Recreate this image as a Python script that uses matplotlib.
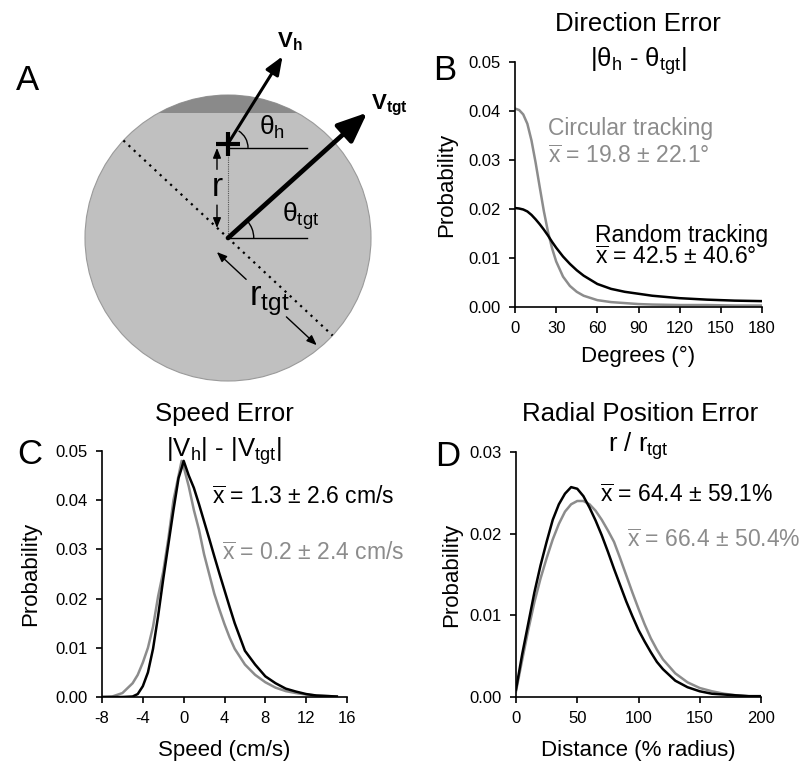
import matplotlib
matplotlib.use('Agg')
import matplotlib.pyplot as plt
from matplotlib.patches import Circle, Rectangle, Arc
from matplotlib.ticker import FormatStrFormatter
import numpy as np

plt.rcParams['font.family'] = 'Liberation Sans'
plt.rcParams['mathtext.fontset'] = 'custom'
plt.rcParams['mathtext.rm'] = 'Liberation Sans'
plt.rcParams['mathtext.it'] = 'Liberation Sans:italic'
plt.rcParams['mathtext.bf'] = 'Liberation Sans:bold'
plt.rcParams['mathtext.sf'] = 'Liberation Sans'
plt.rcParams['axes.unicode_minus'] = False

GRAY = '#8c8c8c'

# ---- B: direction error ----
dir_deg = [0, 3, 6, 9, 12, 15, 18, 21, 24, 27, 30, 35, 40, 45, 50, 60, 70, 80, 90, 100, 120, 140, 160, 180]
dir_circular = [0.0405, 0.0402, 0.0393, 0.0374, 0.0340, 0.0295, 0.0245, 0.0196, 0.0154, 0.0120,
                0.0093, 0.0062, 0.0043, 0.0031, 0.0023, 0.0014, 0.0010, 0.0008, 0.0006, 0.0005,
                0.0004, 0.0004, 0.0003, 0.0003]
dir_random = [0.0202, 0.0201, 0.0199, 0.0195, 0.0188, 0.0179, 0.0169, 0.0158, 0.0146, 0.0133,
              0.0121, 0.0103, 0.0088, 0.0075, 0.0064, 0.0047, 0.0037, 0.0031, 0.0027, 0.0023,
              0.0018, 0.0015, 0.0013, 0.0012]

# ---- C: speed error ----
speed = [-8, -7, -6, -5, -4.5, -4, -3.5, -3, -2.5, -2, -1.5, -1, -0.5, -0.2, 0, 0.5, 1, 1.5, 2,
         2.5, 3, 3.5, 4, 4.5, 5, 6, 7, 8, 9, 10, 11, 12, 13, 14, 15]
speed_black = [0, 0, 0, 0.0001, 0.0006, 0.0022, 0.0050, 0.0098, 0.0165, 0.0240, 0.0310, 0.0380,
               0.0445, 0.0465, 0.0480, 0.0450, 0.0425, 0.0392, 0.0357, 0.0322, 0.0286, 0.0251,
               0.0217, 0.0183, 0.0150, 0.0094, 0.0066, 0.0042, 0.0028, 0.0017, 0.0011, 0.0006,
               0.0003, 0.0002, 0.0001]
speed_gray = [0, 0.0001, 0.0008, 0.0028, 0.0045, 0.0070, 0.0100, 0.0143, 0.0205, 0.0255, 0.0322,
              0.0400, 0.0450, 0.0480, 0.0468, 0.0428, 0.0380, 0.0340, 0.0290, 0.0250, 0.0210,
              0.0178, 0.0148, 0.0121, 0.0098, 0.0066, 0.0045, 0.0030, 0.0019, 0.0012, 0.0008,
              0.0005, 0.0003, 0.0002, 0.0001]

# ---- D: radial position error ----
dist = [0, 5, 10, 15, 20, 25, 30, 35, 40, 45, 50, 55, 60, 65, 70, 75, 80, 85, 90, 95, 100,
        105, 110, 115, 120, 130, 140, 150, 160, 170, 180, 190, 200]
dist_black = [0.0009, 0.0052, 0.0090, 0.0128, 0.0161, 0.0190, 0.0217, 0.0236, 0.0249, 0.0257,
              0.0255, 0.0246, 0.0232, 0.0216, 0.0198, 0.0178, 0.0157, 0.0137, 0.0117, 0.0099,
              0.0082, 0.0068, 0.0055, 0.0043, 0.0034, 0.0020, 0.0012, 0.0007, 0.0004, 0.0003,
              0.0002, 0.0001, 0.0001]
dist_gray = [0.0007, 0.0045, 0.0082, 0.0116, 0.0145, 0.0170, 0.0193, 0.0212, 0.0227, 0.0236,
             0.0240, 0.0240, 0.0236, 0.0228, 0.0217, 0.0204, 0.0190, 0.0170, 0.0149, 0.0128,
             0.0108, 0.0089, 0.0072, 0.0058, 0.0046, 0.0029, 0.0018, 0.0011, 0.0007, 0.0004,
             0.0002, 0.0001, 0.0001]

# ---- A: diagram parameters (circle radius = 1) ----
hand_y = 0.66
cap_y = 0.874
theta_h = 58
theta_tgt = 42
vh_len = 0.72
vtgt_len = 1.31
diam_angle = 137

W, H = 801, 764
fig = plt.figure(figsize=(W / 100, H / 100), dpi=100)


def fx(px):
    return px / W


def fy(py):
    return 1 - py / H


def add_axes_px(left, top, right, bottom):
    return fig.add_axes([fx(left), fy(bottom), (right - left) / W, (bottom - top) / H])


def style_axes(ax):
    ax.spines['top'].set_visible(False)
    ax.spines['right'].set_visible(False)
    ax.spines['left'].set_linewidth(1.2)
    ax.spines['bottom'].set_linewidth(1.2)
    ax.tick_params(direction='out', length=4, width=1.2, labelsize=12, pad=6)
    ax.yaxis.set_major_formatter(FormatStrFormatter('%.2f'))


xbar = r'$\overline{\mathrm{x}}$'

# ---------- panel A ----------
axA = fig.add_axes([0, fy(400), fx(400), 400 / H])
axA.set_xlim(-228 / 143, 172 / 143)
axA.set_ylim(-162 / 143, 238 / 143)
axA.axis('off')
axA.add_patch(Circle((0, 0), 1, fc='#c0c0c0', ec='#9a9a9a', lw=0.8))
cap = Circle((0, 0), 1, fc='#8a8a8a', ec='none')
axA.add_patch(cap)
cap.set_clip_path(Rectangle((-1, cap_y), 2, 1, transform=axA.transData))

ca, sa = np.cos(np.radians(diam_angle)), np.sin(np.radians(diam_angle))
axA.plot([ca, -ca], [sa, -sa], ls=(0, (1, 2.2)), color='k', lw=1.6)
axA.plot([0, 0], [0, hand_y], ls=(0, (1, 1)), color='#555555', lw=0.8)

# horizontal reference lines and angle arcs
axA.plot([0, 0.55], [hand_y - 0.03, hand_y - 0.03], color='k', lw=1)
axA.plot([0, 0.55], [0, 0], color='k', lw=1)
axA.add_patch(Arc((0, hand_y - 0.03), 0.28, 0.28, theta1=0, theta2=theta_h, lw=1))
axA.add_patch(Arc((0, 0), 0.36, 0.36, theta1=0, theta2=theta_tgt, lw=1))

# velocity vectors
th, tt = np.radians(theta_h), np.radians(theta_tgt)
axA.annotate('', xy=(vh_len * np.cos(th), hand_y + vh_len * np.sin(th)), xytext=(0, hand_y),
             arrowprops=dict(arrowstyle='-|>,head_length=0.55,head_width=0.22', lw=2.2,
                             color='k', shrinkA=0, shrinkB=0, mutation_scale=20))
axA.annotate('', xy=(vtgt_len * np.cos(tt), vtgt_len * np.sin(tt)), xytext=(0, 0),
             arrowprops=dict(arrowstyle='-|>,head_length=0.9,head_width=0.38', lw=3.4,
                             color='k', shrinkA=0, shrinkB=0, mutation_scale=20))
axA.plot([0], [hand_y], marker='+', ms=17, mew=3, color='k')

# r arrows
small = dict(arrowstyle='-|>,head_length=0.5,head_width=0.2', lw=1, color='k',
             shrinkA=0, shrinkB=0, mutation_scale=12)
axA.annotate('', xy=(-0.077, 0.63), xytext=(-0.077, 0.48), arrowprops=small)
axA.annotate('', xy=(-0.077, 0.07), xytext=(-0.077, 0.23), arrowprops=small)
axA.text(-0.077, 0.355, 'r', fontsize=24, ha='center', va='center')

# r_tgt arrows along the diameter, offset to the lower left
dx, dy = -ca, -sa
nx, ny = -0.682, -0.731
off = 0.125
axA.annotate('', xy=(0.01 * dx + off * nx, 0.01 * dy + off * ny),
             xytext=(0.29 * dx + off * nx, 0.29 * dy + off * ny), arrowprops=small)
axA.annotate('', xy=(0.965 * dx + off * nx, 0.965 * dy + off * ny),
             xytext=(0.675 * dx + off * nx, 0.675 * dy + off * ny), arrowprops=small)
axA.text(0.29, -0.44, r'r$_\mathrm{tgt}$', fontsize=25, ha='center', va='center')

axA.text(0.31, 0.77, r'θ$_\mathrm{h}$', fontsize=19, ha='center', va='center')
axA.text(0.51, 0.15, r'θ$_\mathrm{tgt}$', fontsize=19, ha='center', va='center')
axA.text(0.43, 1.37, r'$\mathbf{V}_\mathbf{h}$', fontsize=16, ha='center', va='center')
axA.text(1.13, 0.93, r'$\mathbf{V}_\mathbf{tgt}$', fontsize=16, ha='center', va='center')

# ---------- panel B ----------
axB = add_axes_px(515, 62, 762, 307)
axB.plot(dir_deg, dir_circular, color=GRAY, lw=1.8)
axB.plot(dir_deg, dir_random, color='k', lw=1.8)
axB.set_xlim(0, 180)
axB.set_ylim(0, 0.05)
axB.set_xticks([0, 30, 60, 90, 120, 150, 180])
axB.set_yticks([0, 0.01, 0.02, 0.03, 0.04, 0.05])
style_axes(axB)
axB.set_ylabel('Probability', fontsize=16)
axB.set_xlabel('Degrees (°)', fontsize=16)
axB.yaxis.set_label_coords(-0.235, 0.5)
axB.xaxis.set_label_coords(0.5, -0.16)

fig.text(fx(638), fy(31), 'Direction Error', fontsize=18.5, ha='center', va='baseline')
fig.text(fx(638), fy(67), r'|θ$_\mathrm{h}$ - θ$_\mathrm{tgt}$|', fontsize=18.5, ha='center', va='baseline')
fig.text(fx(548), fy(135), 'Circular tracking', fontsize=16.5, color=GRAY, va='baseline')
fig.text(fx(548), fy(163), xbar + ' = 19.8 ± 22.1°', fontsize=16.5, color=GRAY, va='baseline')
fig.text(fx(595), fy(242), 'Random tracking', fontsize=16.5, color='k', va='baseline')
fig.text(fx(595), fy(264), xbar + ' = 42.5 ± 40.6°', fontsize=16.5, color='k', va='baseline')

# ---------- panel C ----------
axC = add_axes_px(102, 451, 347, 697)
axC.plot(speed, speed_gray, color=GRAY, lw=1.8)
axC.plot(speed, speed_black, color='k', lw=1.8)
axC.set_xlim(-8, 16)
axC.set_ylim(0, 0.05)
axC.set_xticks([-8, -4, 0, 4, 8, 12, 16])
axC.set_yticks([0, 0.01, 0.02, 0.03, 0.04, 0.05])
style_axes(axC)
axC.set_ylabel('Probability', fontsize=16)
axC.set_xlabel('Speed (cm/s)', fontsize=16)
axC.yaxis.set_label_coords(-0.25, 0.5)
axC.xaxis.set_label_coords(0.5, -0.175)

fig.text(fx(224), fy(421), 'Speed Error', fontsize=18.5, ha='center', va='baseline')
fig.text(fx(224), fy(457), r'|V$_\mathrm{h}$| - |V$_\mathrm{tgt}$|', fontsize=18.5, ha='center', va='baseline')
fig.text(fx(212), fy(504), xbar + ' = 1.3 ± 2.6 cm/s', fontsize=16.5, color='k', va='baseline')
fig.text(fx(222), fy(560), xbar + ' = 0.2 ± 2.4 cm/s', fontsize=16.5, color=GRAY, va='baseline')

# ---------- panel D ----------
axD = add_axes_px(516, 452, 761, 697)
axD.plot(dist, dist_gray, color=GRAY, lw=1.8)
axD.plot(dist, dist_black, color='k', lw=1.8)
axD.set_xlim(0, 200)
axD.set_ylim(0, 0.03)
axD.set_xticks([0, 50, 100, 150, 200])
axD.set_yticks([0, 0.01, 0.02, 0.03])
style_axes(axD)
axD.set_ylabel('Probability', fontsize=16)
axD.set_xlabel('Distance (% radius)', fontsize=16)
axD.yaxis.set_label_coords(-0.22, 0.5)
axD.xaxis.set_label_coords(0.5, -0.175)

fig.text(fx(640), fy(421), 'Radial Position Error', fontsize=18.5, ha='center', va='baseline')
fig.text(fx(638), fy(452), r'r / r$_\mathrm{tgt}$', fontsize=18.5, ha='center', va='baseline')
fig.text(fx(600), fy(502), xbar + ' = 64.4 ± 59.1%', fontsize=16.5, color='k', va='baseline')
fig.text(fx(627), fy(547), xbar + ' = 66.4 ± 50.4%', fontsize=16.5, color=GRAY, va='baseline')

# panel letters
for letter, px, py in [('A', 28, 80), ('B', 445, 70), ('C', 30, 455), ('D', 448, 456)]:
    fig.text(fx(px), fy(py), letter, fontsize=25, ha='center', va='center')

fig.savefig('out.png', dpi=100)
